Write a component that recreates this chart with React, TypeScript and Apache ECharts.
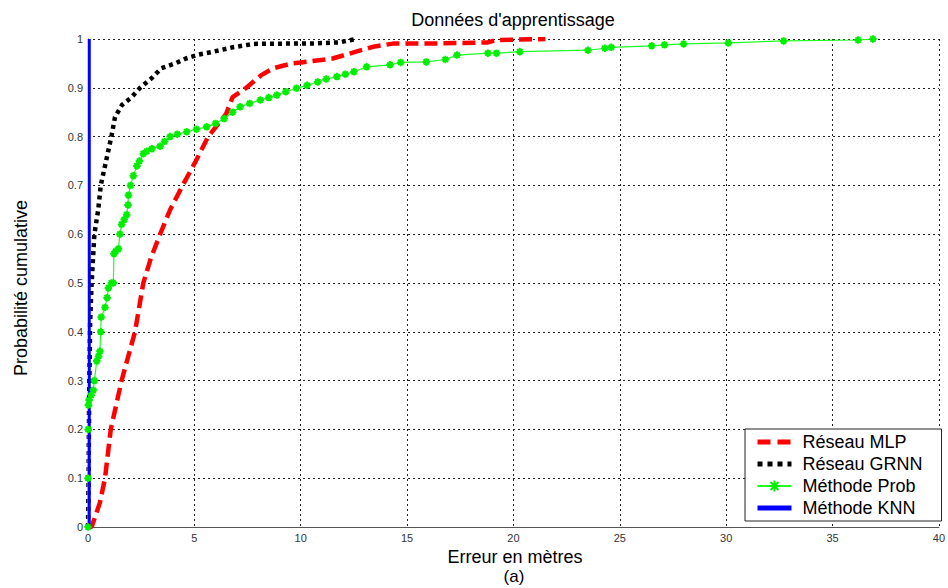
import React, { useEffect, useRef } from "react";
import * as echarts from "echarts";

const title = "Données d'apprentissage";
const xName = "Erreur en mètres";
const subName = "(a)";
const yName = "Probabilité cumulative";

const seriesNames = ["Réseau MLP", "Réseau GRNN", "Méthode Prob", "Méthode KNN"];

const mlpX = [0, 0.17, 0.56, 0.8, 1.07, 1.58, 2.21, 2.6, 2.95, 3.39, 3.86, 4.45, 5.07, 5.65, 6.5, 6.8, 7.44, 8.15, 8.7, 9.6, 10.0, 11.5, 12.6, 13.4, 14.4, 16.6, 18.8, 19.2, 21.5];
const mlpY = [0, 0.0, 0.05, 0.1, 0.2, 0.3, 0.4, 0.5, 0.55, 0.6, 0.65, 0.7, 0.75, 0.8, 0.847, 0.881, 0.9, 0.926, 0.94, 0.95, 0.952, 0.96, 0.974, 0.984, 0.991, 0.991, 0.993, 0.998, 1.0];

const grnnX = [0, 0.03, 0.05, 0.08, 0.1, 0.17, 0.3, 0.48, 0.6, 0.85, 1.1, 1.27, 1.6, 2.03, 2.45, 3.0, 3.45, 4.1, 4.6, 5.2, 5.9, 6.8, 7.8, 10.6, 11.8, 12.6];
const grnnY = [0, 0.1, 0.25, 0.35, 0.42, 0.5, 0.6, 0.65, 0.7, 0.75, 0.8, 0.84, 0.865, 0.88, 0.9, 0.92, 0.94, 0.95, 0.96, 0.968, 0.974, 0.983, 0.99, 0.991, 0.993, 1.0];

const probX = [0, 0, 0.01, 0.02, 0.05, 0.15, 0.25, 0.3, 0.41, 0.5, 0.56, 0.6, 0.62, 0.8, 0.9, 0.96, 1.1, 1.19, 1.22, 1.3, 1.43, 1.5, 1.58, 1.7, 1.82, 1.88, 1.9, 2.0, 2.13, 2.3, 2.42, 2.6, 2.76, 3.0, 3.39, 3.6, 3.86, 4.2, 4.64, 5.1, 5.58, 6.0, 6.4, 6.8, 7.15, 7.6, 8.1, 8.5, 8.88, 9.3, 9.8, 10.3, 10.8, 11.2, 11.7, 12.1, 12.5, 13.1, 14.2, 14.7, 15.9, 16.8, 17.35, 18.8, 19.2, 20.3, 23.5, 24.3, 24.6, 26.5, 27.1, 28.0, 30.1, 32.7, 36.2, 36.9];
const probY = [0, 0.1, 0.2, 0.25, 0.26, 0.27, 0.28, 0.3, 0.34, 0.35, 0.36, 0.4, 0.43, 0.45, 0.47, 0.49, 0.5, 0.5, 0.56, 0.565, 0.57, 0.6, 0.62, 0.63, 0.64, 0.66, 0.68, 0.7, 0.72, 0.74, 0.75, 0.765, 0.77, 0.775, 0.78, 0.79, 0.8, 0.805, 0.81, 0.815, 0.82, 0.827, 0.837, 0.85, 0.861, 0.868, 0.875, 0.88, 0.885, 0.892, 0.899, 0.905, 0.912, 0.918, 0.923, 0.928, 0.933, 0.943, 0.947, 0.952, 0.953, 0.958, 0.967, 0.971, 0.971, 0.974, 0.977, 0.981, 0.983, 0.986, 0.988, 0.99, 0.992, 0.996, 0.998, 1.0];

const knnX = [0.06, 0.06];
const knnY = [0, 1];

const xMin = 0, xMax = 40, xStep = 5;
const yMin = 0, yMax = 1, yStep = 0.1;

const zip = (xs: number[], ys: number[]) => xs.map((x, i) => [x, ys[i]]);

const FONT = "'Liberation Sans', Arial, sans-serif";
const star = "path://M5,0L5,10M0,5L10,5M1.5,1.5L8.5,8.5M1.5,8.5L8.5,1.5";

export default function App() {
  const ref = useRef<HTMLDivElement>(null);
  useEffect(() => {
    if (!ref.current) return;
    const chart = echarts.init(ref.current, undefined, { renderer: "svg" });
    const gridLine = { show: true, lineStyle: { color: "#222", type: [2, 3] as any, width: 1 } };
    const hidden = { opacity: 0 };
    chart.setOption({
      animation: false,
      backgroundColor: "#fff",
      textStyle: { fontFamily: FONT },
      grid: { left: 88, right: 6, top: 39, bottom: 61, containLabel: false },
      xAxis: {
        type: "value",
        min: xMin,
        max: xMax,
        interval: xStep,
        axisLine: { show: true, onZero: false, lineStyle: { color: "#555", width: 1 } },
        axisTick: { show: false },
        axisLabel: { color: "#333", fontSize: 11, margin: 5, fontFamily: FONT },
        splitLine: gridLine,
      },
      yAxis: {
        type: "value",
        min: yMin,
        max: yMax,
        interval: yStep,
        axisLine: { show: true, onZero: false, lineStyle: { color: "#555", width: 1 } },
        axisTick: { show: false },
        axisLabel: {
          color: "#333",
          fontSize: 11,
          margin: 5,
          fontFamily: FONT,
          formatter: (v: number) => String(Math.round(v * 10) / 10),
        },
        splitLine: gridLine,
      },
      legend: {
        orient: "vertical",
        left: 745,
        top: 429,
        padding: [4, 19, 4, 10],
        itemGap: 4,
        itemWidth: 34,
        itemHeight: 14,
        backgroundColor: "#fff",
        borderColor: "#222",
        borderWidth: 1,
        borderRadius: 0,
        textStyle: { fontSize: 18, color: "#000", fontFamily: FONT, padding: [0, 0, 0, 6] },
        data: [
          { name: seriesNames[0], itemStyle: hidden, lineStyle: { width: 5, type: [13, 7], cap: "butt" } },
          { name: seriesNames[1], itemStyle: hidden, lineStyle: { width: 5, type: [5, 5], cap: "butt" } },
          { name: seriesNames[2] },
          { name: seriesNames[3], itemStyle: hidden, lineStyle: { width: 5 } },
        ],
      },
      graphic: [
        {
          type: "text",
          x: 513,
          y: 20,
          style: { text: title, fontSize: 18, fontFamily: FONT, fill: "#000", align: "center", verticalAlign: "middle" },
        },
        {
          type: "text",
          x: 515,
          y: 557,
          style: { text: xName, fontSize: 18, fontFamily: FONT, fill: "#000", align: "center", verticalAlign: "middle" },
        },
        {
          type: "text",
          x: 514,
          y: 576,
          style: { text: subName, fontSize: 17, fontFamily: FONT, fill: "#000", align: "center", verticalAlign: "middle" },
        },
        {
          type: "text",
          x: 21,
          y: 288,
          rotation: Math.PI / 2,
          style: { text: yName, fontSize: 18, fontFamily: FONT, fill: "#000", align: "center", verticalAlign: "middle" },
        },
      ],
      series: [
        {
          name: seriesNames[0],
          type: "line",
          data: zip(mlpX, mlpY),
          symbol: "none",
          lineStyle: { color: "#ff0000", width: 4.5, type: [13, 6] as any, cap: "butt" },
          itemStyle: { color: "#ff0000" },
        },
        {
          name: seriesNames[1],
          type: "line",
          data: zip(grnnX, grnnY),
          symbol: "none",
          lineStyle: { color: "#000", width: 4.5, type: [4, 4] as any, cap: "butt" },
          itemStyle: { color: "#000" },
        },
        {
          name: seriesNames[2],
          type: "line",
          data: zip(probX, probY),
          symbol: star,
          symbolSize: 7.5,
          showAllSymbol: true,
          lineStyle: { color: "#22ff22", width: 1.2 },
          itemStyle: { color: "#00ff00", borderColor: "#00ee00", borderWidth: 2 },
        },
        {
          name: seriesNames[3],
          type: "line",
          data: zip(knnX, knnY),
          symbol: "none",
          lineStyle: { color: "#0000ff", width: 3 },
          itemStyle: { color: "#0000ff" },
        },
      ],
    });
    return () => chart.dispose();
  }, []);
  return <div ref={ref} style={{ width: 948, height: 588, position: "absolute", left: 0, top: 0 }} />;
}
